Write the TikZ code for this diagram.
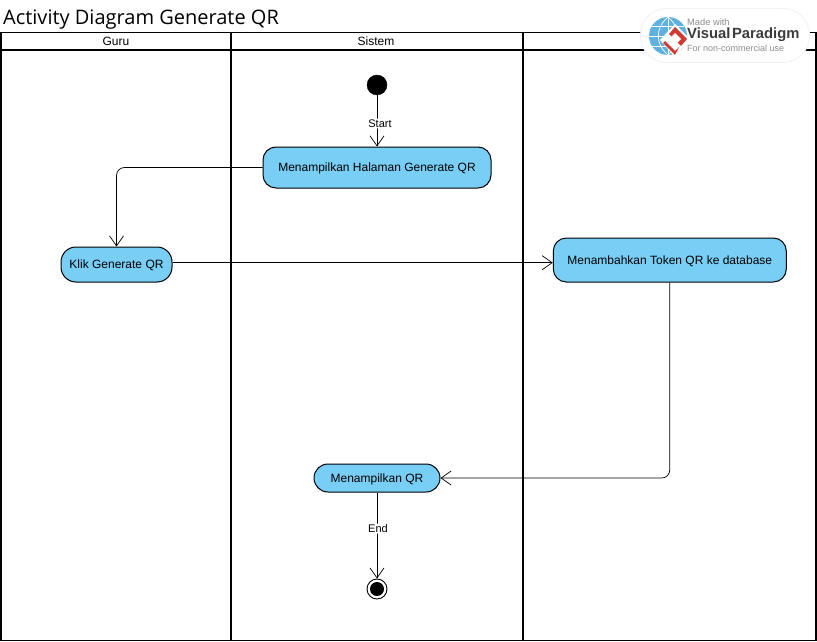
\documentclass[tikz,border=0pt]{standalone}
\usepackage{fontspec}
\setmainfont{Liberation Sans}
\newfontfamily\titlefont{Open Sans}
\usetikzlibrary{arrows.meta,calc}
\definecolor{actfill}{HTML}{78CEF5}
\definecolor{vpgrey}{HTML}{3C3C3C}
\definecolor{vplight}{HTML}{8E8E8E}
\definecolor{vpred}{HTML}{CF3A32}
\definecolor{vpblue}{HTML}{5FB2E0}
\tikzset{
 x=1pt,y=-1pt,
 lane/.style={draw=black,line width=1.5pt},
 lanetext/.style={font=\fontsize{12}{14}\selectfont,inner sep=0pt,anchor=center},
 activity/.style={draw=black,fill=actfill,line width=1pt,rounded corners=#1,inner sep=0pt,font=\fontsize{12}{14}\selectfont,anchor=center,text height=9.5pt,text depth=1pt},
 activity/.default=13pt,
 flow/.style={draw=black,line width=0.7pt,rounded corners=8pt,-{Straight Barb[length=10pt,width=14pt,line width=0.7pt]}},
 flowlabel/.style={fill=white,inner sep=1pt,font=\fontsize{11}{13}\selectfont,anchor=center},
}
\begin{document}
\begin{tikzpicture}
\useasboundingbox (0,0) rectangle (817,642);
\fill[white] (0,0) rectangle (817,642);
\node[font=\titlefont\fontsize{20}{24}\selectfont,inner sep=0pt,anchor=west] (title) at (3,20) {Activity Diagram Generate QR};
% swimlanes
\draw[lane] (1,32.5) rectangle (816,640.5);
\draw[lane] (1,50) -- (816,50);
\draw[lane] (231,32.5) -- (231,640.5);
\draw[lane] (523,32.5) -- (523,640.5);
\node[lanetext] (guru) at (116,41) {Guru};
\node[lanetext] (sistem) at (376,41) {Sistem};
% nodes
\node[circle,fill=black,draw=black,minimum size=20pt,inner sep=0pt] (start) at (377,85) {};
\node[activity=13pt,minimum width=228pt,minimum height=41pt] (a1) at (377,167.5) {Menampilkan Halaman Generate QR};
\node[activity=15pt,minimum width=111pt,minimum height=35pt] (a2) at (116.5,264.5) {Klik Generate QR};
\node[activity=13pt,minimum width=233pt,minimum height=44pt] (a3) at (669.8,260) {Menambahkan Token QR ke database};
\node[activity=14pt,minimum width=126pt,minimum height=28pt] (a4) at (377,478) {Menampilkan QR};
\node[circle,draw=black,fill=white,line width=0.9pt,minimum size=20pt,inner sep=0pt] (endn) at (377,589) {};
\node[circle,fill=black,minimum size=14pt,inner sep=0pt] (endi) at (377,589) {};
% flows
\draw[flow] (start) -- node[flowlabel,pos=0.55,xshift=3pt] (lstart) {Start} (a1.north);
\draw[flow] (a1.west) -| (a2.north);
\coordinate (c2) at (a2.east |- 0,262.7);
\draw[flow] (c2) -- (c2 -| a3.west);
\draw[flow] (a3.south) |- (a4.east);
\draw[flow] (a4.south) -- node[flowlabel,pos=0.42,xshift=1pt] (lend) {End} (endn.north);
% logo
\fill[black!5,rounded corners=27pt] (640,8) rectangle (810,63);
\fill[white,rounded corners=26pt] (641,9) rectangle (809,62);
\fill[vpblue] (668,36) circle (19);
\draw[white,line width=0.7pt] (668,17) -- (668,55) (649,36) -- (687,36) (652,26) -- (684,26) (652,46) -- (684,46);
\draw[white,line width=0.7pt] (668,17) .. controls (655,28) and (655,44) .. (668,55) (668,17) .. controls (681,28) and (681,44) .. (668,55);
\fill[white] (675,24) -- (690,39) -- (675,57) -- (660,40) -- cycle;
\fill[vpred] (675,27) -- (687,39) -- (681,46) -- (669,34) -- cycle;
\fill[vpred] (665,41) -- (675,51) -- (679,47) -- (675,55) -- (663,43) -- cycle;
\fill[white] (675,33) -- (681,39) -- (677,43) -- (671,37) -- cycle;
\node[font=\fontsize{9.3}{11}\selectfont,text=vplight,inner sep=0pt,anchor=west] (logo1) at (687,22.5) {Made with};
\node[font=\fontsize{14.8}{18}\selectfont\bfseries,text=vpgrey,inner sep=0pt,anchor=west] (logo2) at (687,35) {Visual\kern1.5pt Paradigm};
\node[font=\fontsize{9}{11}\selectfont,text=vplight,inner sep=0pt,anchor=west] (logo3) at (687,48) {For non-commercial use};
\end{tikzpicture}
\end{document}
